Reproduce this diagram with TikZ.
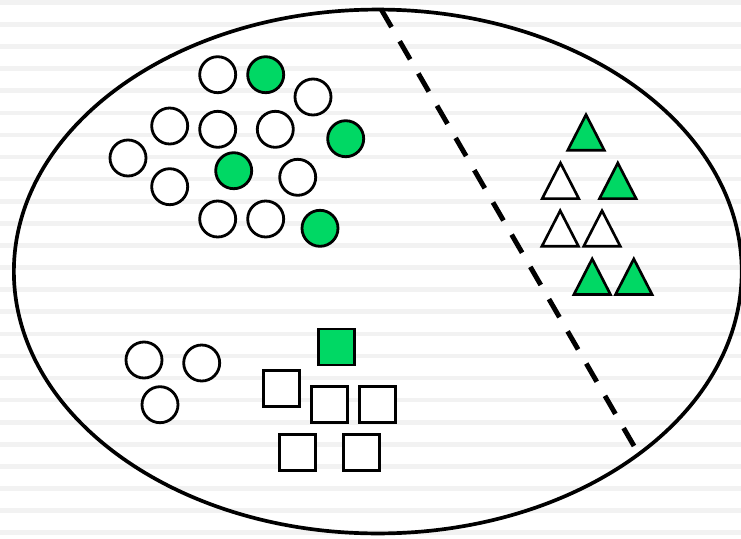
\documentclass[tikz,border=0pt]{standalone}
\usepackage{tikz}
\usetikzlibrary{shapes.geometric}
\definecolor{ptgreen}{RGB}{0,216,100}
\definecolor{stripe}{RGB}{242,242,242}

\begin{document}
\begin{tikzpicture}[x=0.02cm, y=-0.02cm,
  pt/.style={draw, circle, line width=1.6pt, fill=white,
             minimum size=0.72cm, inner sep=0pt},
  ptpos/.style={pt, fill=ptgreen},
  sq/.style={draw, rectangle, line width=1.6pt, fill=white,
             minimum size=0.72cm, inner sep=0pt},
  sqpos/.style={sq, fill=ptgreen},
  tri/.pic={\draw[line width=1.5pt, fill=white]
            (-18.3,17.8) -- (0,-17.8) -- (18.3,17.8) -- cycle;},
  tripos/.pic={\draw[line width=1.5pt, fill=ptgreen]
            (-18.3,17.8) -- (0,-17.8) -- (18.3,17.8) -- cycle;},
  boundary/.style={draw, ellipse, line width=2.1pt, inner sep=0pt,
                   minimum width=14.56cm, minimum height=10.48cm},
  cut/.style={line width=2.8pt, dash pattern=on 11.9pt off 9.3pt}
]
\useasboundingbox (0,0) rectangle (741,538);
\fill[white] (0,0) rectangle (741,538);
\foreach \k in {0,...,24}
  \fill[stripe] (0,22.1*\k) rectangle (741,22.1*\k+4.6);

\node[boundary] (set) at (377.8,271.5) {};

% upper cluster
\node[pt] (w1) at (217.7,74.7) {};
\node[ptpos] (g1) at (265.7,74.7) {};
\node[pt] (w2) at (313,97) {};
\node[pt] (w3) at (169.7,126) {};
\node[pt] (w4) at (217.7,129.3) {};
\node[pt] (w5) at (275.3,129.3) {};
\node[ptpos] (g2) at (345.7,138.7) {};
\node[pt] (w6) at (128,158) {};
\node[ptpos] (g3) at (233.7,170.7) {};
\node[pt] (w7) at (297.7,177.3) {};
\node[pt] (w8) at (169.7,186.7) {};
\node[pt] (w9) at (217.7,219) {};
\node[pt] (w10) at (265.7,219) {};
\node[ptpos] (g4) at (320,228.3) {};

% lower circles
\node[pt] (w11) at (144,360) {};
\node[pt] (w12) at (201.7,363) {};
\node[pt] (w13) at (160,404.7) {};

% squares
\node[sqpos] (s1) at (336.2,347) {};
\node[sq] (s2) at (281.8,388.5) {};
\node[sq] (s3) at (329.7,404.5) {};
\node[sq] (s4) at (377.8,404.5) {};
\node[sq] (s5) at (297.7,452.5) {};
\node[sq] (s6) at (361.7,452.5) {};

% triangles
\pic (t1) at (586,132.5) {tripos};
\pic (t2) at (560.5,180.8) {tri};
\pic (t3) at (617.8,180.8) {tripos};
\pic (t4) at (560.2,228.5) {tri};
\pic (t5) at (602,228.5) {tri};
\pic (t6) at (592.2,276.7) {tripos};
\pic (t7) at (633.8,276.7) {tripos};

\coordinate (cuttop) at (381,9);
\coordinate (cutbot) at (634,446);
\draw[cut] (cuttop) -- (cutbot);
\end{tikzpicture}
\end{document}
